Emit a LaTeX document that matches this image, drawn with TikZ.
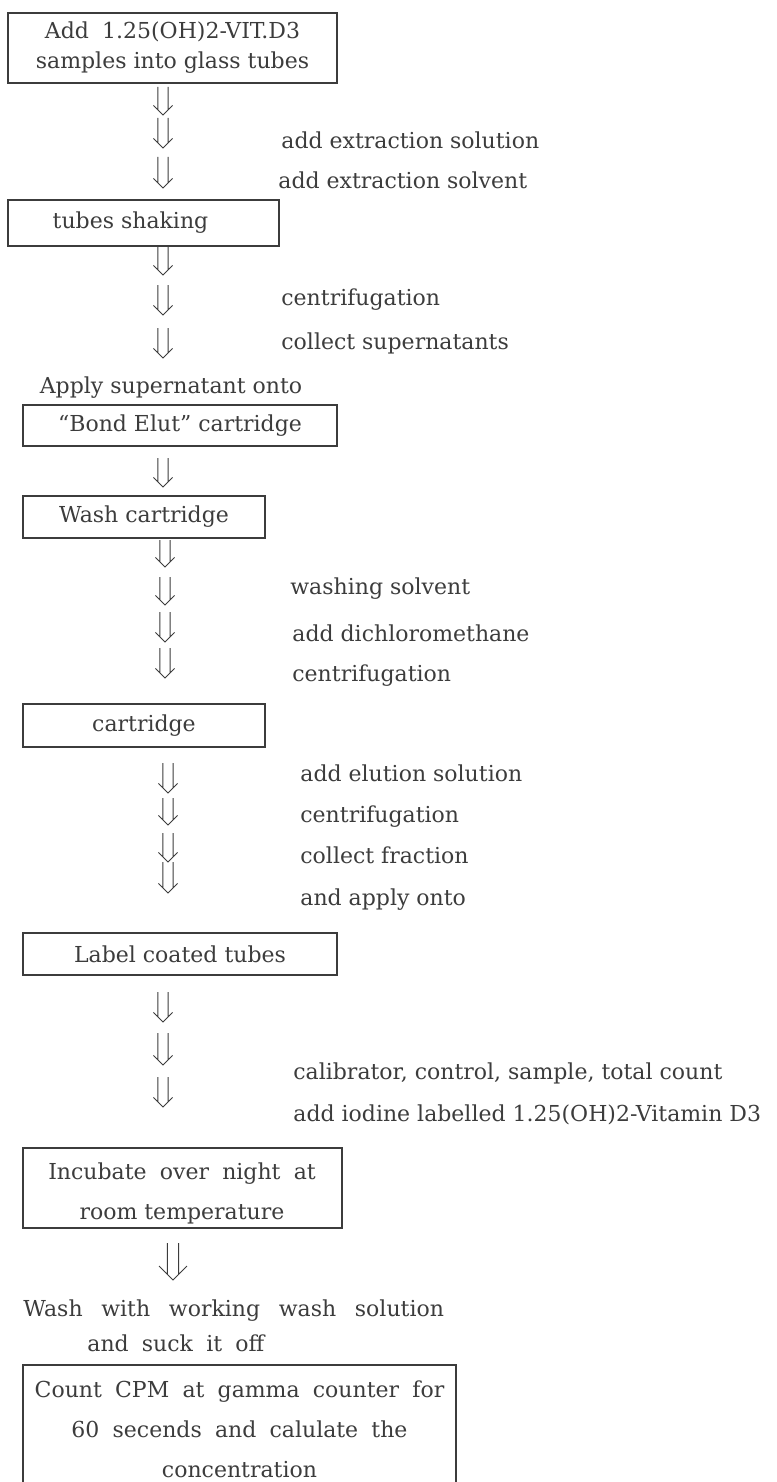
\documentclass[tikz,border=0pt]{standalone}
\usepackage{fontspec}
\setmainfont{DejaVu Serif}
\usetikzlibrary{positioning}
\definecolor{ink}{RGB}{60,60,60}
\newcommand{\wgap}{\hspace{0.6em}}

\begin{document}
\begin{tikzpicture}[
    x=0.5pt, y=-0.5pt,
    font=\fontsize{11}{15}\selectfont,
    box/.style={rectangle, draw=ink, line width=0.7pt, inner sep=0pt, align=center, text=ink},
    note/.style={anchor=west, inner sep=0pt, text=ink},
    glyph/.style={draw=ink, line width=0.5pt}
]
    \useasboundingbox (0,0) rectangle (776,1482);

    % Boxes
    \node[box, minimum width=164.5pt, minimum height=35pt] (samples) at (172.5,48) {Add\wgap 1.25(OH)2-VIT.D3\\samples into glass tubes};
    \node[box, minimum width=135.5pt, minimum height=23pt] (shaking) at (143.5,223) {tubes shaking\hspace*{13pt}};
    \node[text=ink, inner sep=0pt] (apply) at (171,388) {Apply supernatant onto};
    \node[box, minimum width=157pt, minimum height=20.5pt] (bond) at (180,425.5) {``Bond Elut'' cartridge};
    \node[box, minimum width=121pt, minimum height=21pt] (wash) at (144,517) {Wash cartridge};
    \node[box, minimum width=121pt, minimum height=21.5pt] (cartridge) at (144,725.5) {cartridge};
    \node[box, minimum width=157pt, minimum height=21pt] (label) at (180,954) {Label coated tubes};
    \node[box, minimum width=159.5pt, minimum height=40pt] (incubate) at (182.5,1188) {};
    \node[text=ink, inner sep=0pt, align=center] (incubatetxt) at (182,1193) {Incubate\wgap over\wgap night\wgap at\\[5pt]room temperature};
    \node[text=ink, inner sep=0pt, align=left, anchor=west] (washsol) at (23,1326) {Wash\hspace{0.85em}with\hspace{0.85em}working\hspace{0.85em}wash\hspace{0.85em}solution\\[2.5pt]\hspace*{32pt}and\wgap suck\wgap it\wgap off};
    \node[box, minimum width=216.5pt, minimum height=64pt] (count) at (239.5,1429) {Count\wgap CPM\wgap at\wgap gamma\wgap counter\wgap for\\[5pt]60\wgap secends\wgap and\wgap calulate\wgap the\\[5pt]concentration};

    % Side notes
    \node[note] (n1) at (281,140) {add extraction solution};
    \node[note] (n2) at (278,180) {add extraction solvent};
    \node[note] (n3) at (281,300) {centrifugation};
    \node[note] (n4) at (281,343) {collect supernatants};
    \node[note] (n5) at (290,589) {washing solvent};
    \node[note] (n6) at (292,633) {add dichloromethane};
    \node[note] (n7) at (292,676) {centrifugation};
    \node[note] (n8) at (300,773) {add elution solution};
    \node[note] (n9) at (300,817) {centrifugation};
    \node[note] (n10) at (300,855) {collect fraction};
    \node[note] (n11) at (300,900) {and apply onto};
    \node[note] (n12) at (293,1073) {calibrator, control, sample, total count};
    \node[note] (n13) at (293,1115) {add iodine labelled 1.25(OH)2-Vitamin D3};

    % Arrows (double stem, open head)
    \foreach \n/\x/\a/\b in {a1/163/87/115, a2/163/118/148, a3/163/157/188,
                             b1/163/247/275, b2/163/285/315, b3/163/328/358,
                             c1/163/458/487,
                             d1/165/540/567, d2/165/577/605, d3/165/612/642, d4/165/648/678,
                             e1/168/763/793, e2/168/798/825, e3/168/833/862, e4/168/862/893,
                             f1/163/992/1022, f2/163/1033/1065, f3/163/1077/1107} {
        \coordinate (\n s) at (\x,\a);
        \coordinate (\n e) at (\x,\b);
        \draw[glyph] ([xshift=-2.6pt]\n s) -- ([xshift=-2.6pt,yshift=2.6pt]\n e)
                     ([xshift=2.6pt]\n s) -- ([xshift=2.6pt,yshift=2.6pt]\n e)
                     ([xshift=-4.8pt,yshift=4.8pt]\n e) -- (\n e) -- ([xshift=4.8pt,yshift=4.8pt]\n e);
    }
    \coordinate (gs) at (173,1243);
    \coordinate (ge) at (173,1280);
    \draw[glyph] ([xshift=-2.8pt]gs) -- ([xshift=-2.8pt,yshift=2.8pt]ge)
                 ([xshift=2.8pt]gs) -- ([xshift=2.8pt,yshift=2.8pt]ge)
                 ([xshift=-7pt,yshift=7pt]ge) -- (ge) -- ([xshift=7pt,yshift=7pt]ge);
\end{tikzpicture}
\end{document}
